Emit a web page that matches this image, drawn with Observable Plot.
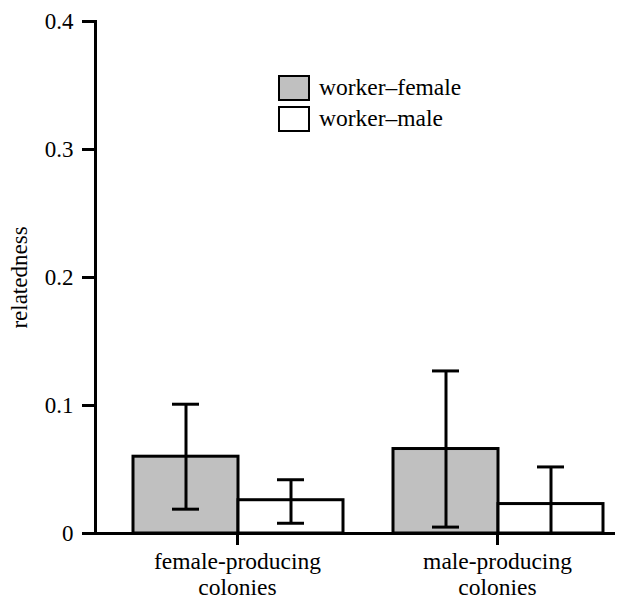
<!DOCTYPE html>
<html>
<head>
<meta charset="utf-8">
<script src="https://cdn.jsdelivr.net/npm/d3@7"></script>
<script src="https://cdn.jsdelivr.net/npm/@observablehq/plot@0.6"></script>
<style>
  html, body { margin: 0; padding: 0; background: #fff; }
  #wrap { position: relative; width: 626px; height: 602px; font-family: "Liberation Serif", "Times New Roman", serif; }
  #wrap svg, #wrap svg text { font-family: "Liberation Serif", "Times New Roman", serif !important; }
  #legend { position: absolute; left: 278px; top: 72px; font-size: 23.5px; color: #000; }
  .item { display: flex; align-items: center; height: 31px; }
  .sw { width: 28px; height: 22px; border: 2.5px solid #000; margin-right: 9px; }
</style>
</head>
<body>
<div id="wrap"><div id="legend"></div></div>
<script>
const categories = ["female-producing colonies", "male-producing colonies"];
const categoryLabels = ["female-producing\ncolonies", "male-producing\ncolonies"];
const series = ["worker–female", "worker–male"];
const seriesColors = ["#c0c0c0", "#ffffff"];
// relatedness means and error-bar limits, per category
const femaleMean = [0.060, 0.066];
const femaleLow  = [0.019, 0.005];
const femaleHigh = [0.101, 0.127];
const maleMean   = [0.026, 0.023];
const maleLow    = [0.008, 0.000];
const maleHigh   = [0.042, 0.052];
const yTicks = [0, 0.1, 0.2, 0.3, 0.4];

const data = [];
categories.forEach((c, i) => {
  data.push({cat: c, series: series[0], mean: femaleMean[i], lo: femaleLow[i], hi: femaleHigh[i]});
  data.push({cat: c, series: series[1], mean: maleMean[i], lo: maleLow[i], hi: maleHigh[i]});
});

const serif = "Liberation Serif";

const chart = Plot.plot({
  width: 626,
  height: 602,
  marginTop: 21,
  marginBottom: 69,
  marginLeft: 95,
  marginRight: 11,
  style: {fontFamily: serif, fontSize: "22px", color: "#000", background: "#fff"},
  fx: {domain: categories, paddingInner: 0, paddingOuter: 0, label: null, axis: null},
  x: {domain: series, paddingInner: 0, paddingOuter: 0.238, align: 0.76, axis: null},
  y: {domain: [0, 0.4], label: null},
  color: {domain: series, range: seriesColors},
  marks: [
    Plot.barY(data, {fx: "cat", x: "series", y: "mean", fill: "series", stroke: "#000", strokeWidth: 3}),
    Plot.ruleX(data, {fx: "cat", x: "series", y1: "lo", y2: "hi", stroke: "#000", strokeWidth: 3}),
    Plot.tickY(data, {fx: "cat", x: "series", y: "hi", stroke: "#000", strokeWidth: 3, insetLeft: 39, insetRight: 39}),
    Plot.tickY(data, {fx: "cat", x: "series", y: "lo", stroke: "#000", strokeWidth: 3, insetLeft: 39, insetRight: 39}),
    Plot.ruleY([0], {stroke: "#000", strokeWidth: 3}),
    Plot.frame({anchor: "left", stroke: "#000", strokeWidth: 3, facetAnchor: "left"}),
    Plot.axisY({
      ticks: yTicks,
      tickSize: 13,
      tickPadding: 9,
      strokeWidth: 3,
      fontSize: 23,
      fontFamily: serif,
      tickFormat: d => d === 0 ? "0" : d.toFixed(1),
      label: "relatedness",
      labelArrow: false,
      labelAnchor: "center",
      labelOffset: 85
    }),
    Plot.axisFx({
      anchor: "bottom",
      tickSize: 12,
      tickPadding: 5,
      strokeWidth: 3,
      dx: 12,
      fontSize: 23.5,
      fontFamily: serif,
      lineHeight: 1.1,
      tickFormat: d => categoryLabels[categories.indexOf(d)],
      label: null
    })
  ]
});
document.getElementById("wrap").prepend(chart);

const legend = document.getElementById("legend");
series.forEach((s, i) => {
  const it = document.createElement("div");
  it.className = "item";
  const sw = document.createElement("div");
  sw.className = "sw";
  sw.style.background = seriesColors[i];
  const t = document.createElement("span");
  t.textContent = s;
  it.appendChild(sw);
  it.appendChild(t);
  legend.appendChild(it);
});
</script>
</body>
</html>
